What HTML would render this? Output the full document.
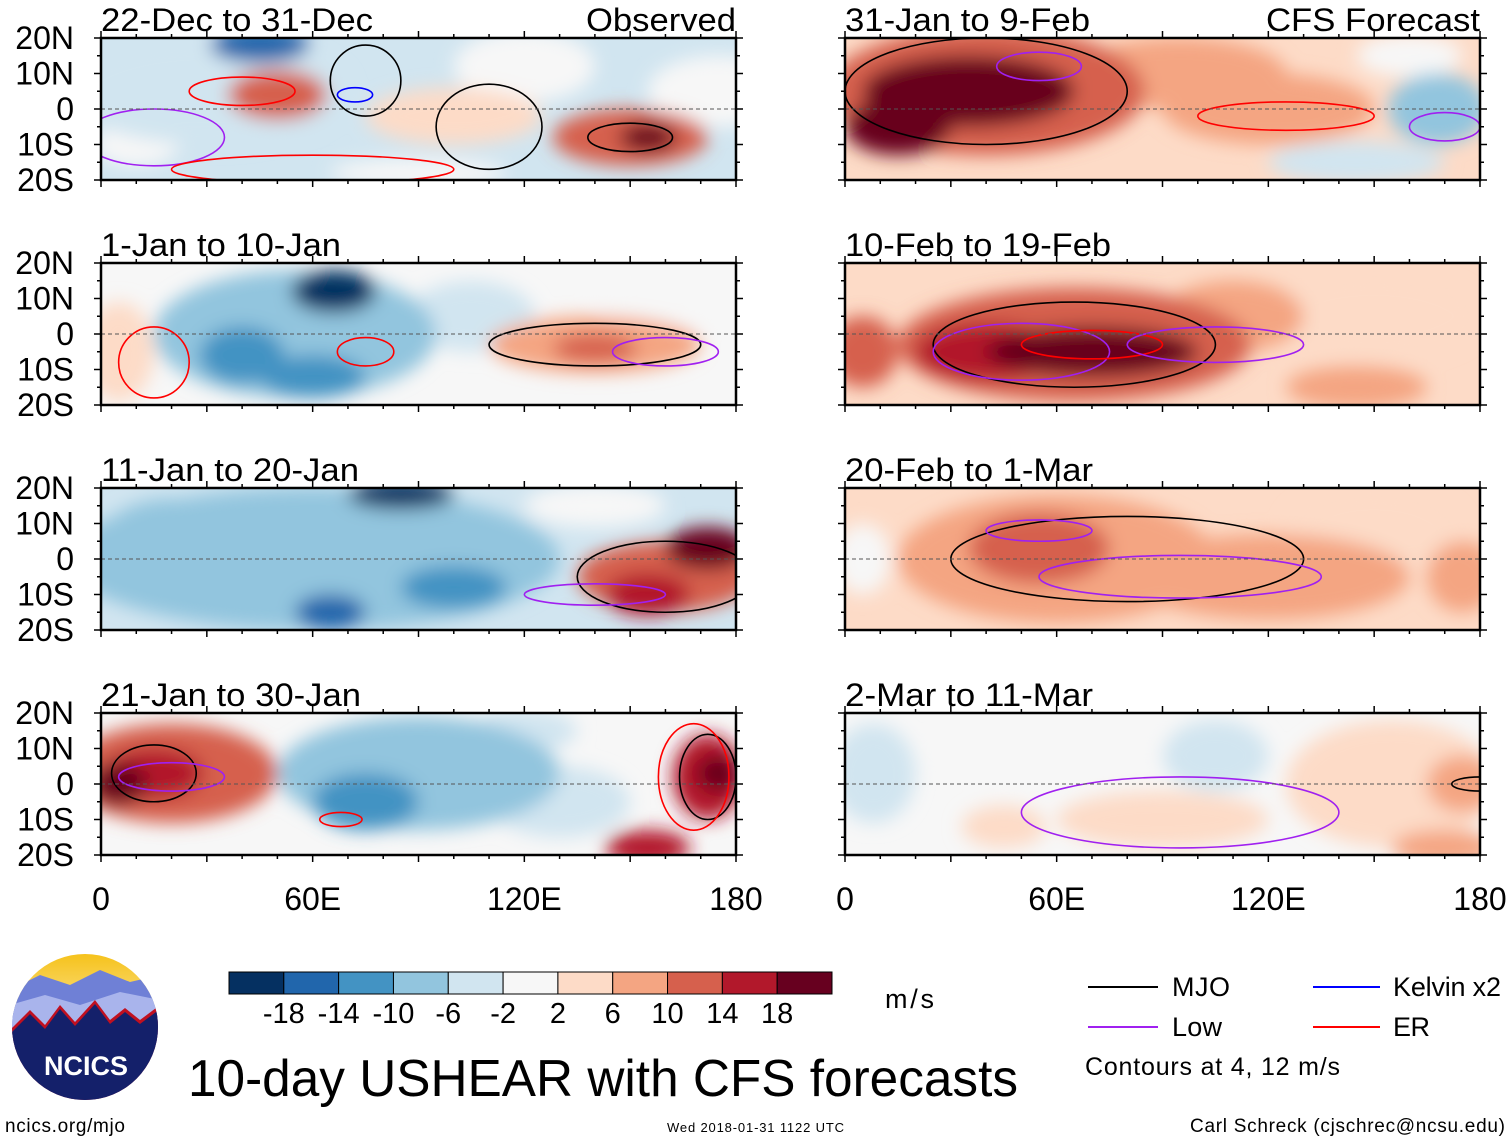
<!DOCTYPE html>
<html><head><meta charset="utf-8">
<style>
html,body{margin:0;padding:0;background:#fff;}
body{width:1510px;height:1142px;overflow:hidden;font-family:"Liberation Sans",Arial,sans-serif;}
svg text{font-family:"Liberation Sans",Arial,sans-serif;}
</style></head>
<body>
<svg id="chart" width="1510" height="1142" xmlns="http://www.w3.org/2000/svg">
<defs>
<filter id="blur" x="-20%" y="-50%" width="140%" height="200%"><feGaussianBlur stdDeviation="9"/></filter>
<linearGradient id="sky" x1="0" y1="0" x2="0" y2="1"><stop offset="0" stop-color="#f6c21b"/><stop offset="0.35" stop-color="#f9dc7a"/><stop offset="0.5" stop-color="#9ab0e8"/></linearGradient>
<clipPath id="logoclip"><circle cx="85" cy="1027" r="73"/></clipPath>
</defs>
<g id="panels"></g>
<g id="logo">
<circle cx="85" cy="1027" r="73" fill="url(#sky)"/>
<g clip-path="url(#logoclip)">
<path d="M10 990 L40 975 L70 985 L100 970 L130 982 L160 975 L160 1020 L10 1020Z" fill="#6f80d6"/>
<path d="M10 1005 L45 995 L80 1005 L120 992 L160 1000 L160 1040 L10 1040Z" fill="#a9b4ec"/>
<path d="M10 1030 L30 1010 L45 1025 L60 1005 L75 1022 L95 1000 L110 1020 L125 1008 L140 1020 L160 1005 L160 1110 L10 1110Z" fill="#c01020"/>
<path d="M10 1034 L30 1014 L45 1029 L60 1009 L75 1026 L95 1004 L110 1024 L125 1012 L140 1024 L160 1009 L160 1110 L10 1110Z" fill="#14206a"/>
</g>
<text x="86" y="1075" font-size="27" font-weight="bold" fill="#fff" text-anchor="middle">NCICS</text>
</g>
<g id="colorbar"></g>
<text x="885" y="1008" font-size="27" textLength="49">m/s</text>
<text x="188" y="1096" font-size="52" textLength="830" lengthAdjust="spacingAndGlyphs">10-day USHEAR with CFS forecasts</text>
<g font-size="27">
<line x1="1088" y1="987" x2="1158" y2="987" stroke="#000" stroke-width="2"/><text x="1172" y="996" textLength="58">MJO</text>
<line x1="1088" y1="1027" x2="1158" y2="1027" stroke="#a020f0" stroke-width="2"/><text x="1172" y="1036" textLength="50">Low</text>
<line x1="1313" y1="987" x2="1380" y2="987" stroke="#0000ff" stroke-width="2"/><text x="1393" y="996" textLength="108">Kelvin x2</text>
<line x1="1313" y1="1027" x2="1380" y2="1027" stroke="#ff0000" stroke-width="2"/><text x="1393" y="1036" textLength="37">ER</text>
<text x="1085" y="1075" font-size="25" textLength="255">Contours at 4, 12 m/s</text>
</g>
<text x="5" y="1132" font-size="19" textLength="120">ncics.org/mjo</text>
<text x="667" y="1132" font-size="13" textLength="177">Wed 2018-01-31 1122 UTC</text>
<text x="1190" y="1132" font-size="19" textLength="315">Carl Schreck (cjschrec@ncsu.edu)</text>
</svg>
<script>
const NS='http://www.w3.org/2000/svg';
const binEdges=[-18,-14,-10,-6,-2,2,6,10,14,18];
const binColors=['#053061','#2166ac','#4393c3','#92c5de','#d1e5f0','#f7f7f7','#fddbc7','#f4a582','#d6604d','#b2182b','#67001f'];
const cbLabels=['-18','-14','-10','-6','-2','2','6','10','14','18'];
const xTickLabels=['0','60E','120E','180'];
const xTickLons=[0,60,120,180];
const latTickLabels=['20N','10N','0','10S','20S'];
const latTicks=[20,10,0,-10,-20];
const panelTitles=['22-Dec to 31-Dec','1-Jan to 10-Jan','11-Jan to 20-Jan','21-Jan to 30-Jan','31-Jan to 9-Feb','10-Feb to 19-Feb','20-Feb to 1-Mar','2-Mar to 11-Mar'];
const panelTitleWidths=[272,240,258,260,245,266,248,248];
const panelBase=[-2.5,0,-3,0,4,4,4,1.5];
// blobs: [lon, lat, lonRadius, latRadius, value]
const blobs0=[[30,5,40,15,-5],[45,18,14,5,-15],[50,4,14,7,12],[100,-2,25,8,4],[150,-8,22,8,13],[155,-8,8,4,18],[175,5,20,10,-2],[120,12,20,10,0],[90,-18,25,4,0],[10,-10,12,6,0]];
const blobs1=[[55,0,40,18,-9],[66,12,12,6,-19],[40,-6,12,8,-13],[60,-12,15,6,-12],[105,5,18,10,-6],[5,-5,10,14,5],[140,-3,30,8,8],[140,-4,12,4,13],[160,10,20,8,-2]];
const blobs2=[[60,0,70,20,-8],[85,18,15,4,-19],[65,-15,10,5,-17],[100,-8,15,6,-12],[20,5,20,12,-10],[160,-5,25,10,12],[172,3,12,6,19],[155,-10,12,6,15],[140,15,20,6,0]];
const blobs3=[[20,3,30,14,10],[5,0,8,6,19],[15,3,14,7,15],[90,3,40,16,-8],[75,-5,15,8,-11],[130,-5,20,10,-3],[172,2,10,12,14],[175,3,6,5,19],[155,-18,12,5,14],[120,15,15,6,-3]];
const blobs4=[[40,5,45,18,13],[35,5,30,10,19],[15,-5,15,8,19],[95,10,30,10,6],[120,0,30,10,6],[168,0,14,10,-10],[145,-15,25,6,-4],[160,15,15,6,-2]];
const blobs5=[[65,-3,50,16,12],[70,-5,30,7,19],[40,-5,20,8,15],[110,5,20,10,6],[150,5,30,12,3],[145,-15,20,6,7],[5,-5,10,10,10]];
const blobs6=[[60,0,45,18,9],[55,3,20,10,12],[120,-5,40,12,6],[5,0,8,10,-2],[150,8,25,12,4],[175,-5,10,10,9]];
const blobs7=[[8,3,12,14,-5],[105,8,15,10,-4],[60,10,35,8,1],[175,0,10,8,9],[155,0,30,18,4],[90,-10,30,8,4],[170,-18,15,5,6],[45,-12,12,6,3]];
const allBlobs=[blobs0,blobs1,blobs2,blobs3,blobs4,blobs5,blobs6,blobs7];
// contour ellipses: [lon, lat, lonRadius, latRadius, type]
const contours=[
 [[75,8,10,10,'mjo'],[110,-5,15,12,'mjo'],[150,-8,12,4,'mjo'],[15,-8,20,8,'low'],[40,5,15,4,'er'],[60,-17,40,4,'er'],[72,4,5,2,'kelvin']],
 [[140,-3,30,6,'mjo'],[15,-8,10,10,'er'],[75,-5,8,4,'er'],[160,-5,15,4,'low']],
 [[160,-5,25,10,'mjo'],[140,-10,20,3,'low']],
 [[15,3,12,8,'mjo'],[172,2,8,12,'mjo'],[20,2,15,4,'low'],[168,2,10,15,'er'],[68,-10,6,2,'er']],
 [[40,5,40,15,'mjo'],[55,12,12,4,'low'],[125,-2,25,4,'er'],[170,-5,10,4,'low']],
 [[65,-3,40,12,'mjo'],[50,-5,25,8,'low'],[70,-3,20,4,'er'],[105,-3,25,5,'low']],
 [[80,0,50,12,'mjo'],[55,8,15,3,'low'],[95,-5,40,6,'low']],
 [[95,-8,45,10,'low'],[180,0,8,2,'mjo']]
];
const lineColor={mjo:'#000',low:'#a020f0',er:'#ff0000',kelvin:'#0000ff'};
function colorFor(v){let i=0;while(i<binEdges.length&&v>=binEdges[i])i++;return binColors[i];}
const panelsG=document.getElementById('panels');
const PW=635,PH=142;
const colX=[101,845],rowY=[38,263,488,713];
function mk(tag,attrs,parent){const e=document.createElementNS(NS,tag);for(const k in attrs)e.setAttribute(k,attrs[k]);parent.appendChild(e);return e;}
for(let p=0;p<8;p++){
  const col=p<4?0:1,row=p%4;
  const x0=colX[col],y0=rowY[row];
  const xs=lon=>x0+lon/180*PW;
  const ys=lat=>y0+(20-lat)/40*PH;
  const g=mk('g',{},panelsG);
  
  
  const cp=mk('clipPath',{id:'cp'+p},g);
  mk('rect',{x:x0,y:y0,width:PW,height:PH},cp);
  const inner=mk('g',{'clip-path':'url(#cp'+p+')'},g);
  mk('rect',{x:x0-20,y:y0-20,width:PW+40,height:PH+40,fill:colorFor(panelBase[p])},inner);
  const fg=mk('g',{filter:'url(#blur)'},inner);
  const bl=allBlobs[p].slice().sort((a,b)=>Math.abs(a[4])-Math.abs(b[4]));
  bl.forEach(b=>{
    const e=mk('ellipse',{cx:xs(b[0]),cy:ys(b[1]),rx:b[2]/180*PW,ry:b[3]/40*PH,fill:colorFor(b[4])},fg);
    
    
  });
  contours[p].forEach(c=>{
    const e=mk('ellipse',{cx:xs(c[0]),cy:ys(c[1]),rx:c[2]/180*PW,ry:c[3]/40*PH,fill:'none',stroke:lineColor[c[4]],'stroke-width':1.6},inner);
    
    
  });
  mk('line',{x1:x0,x2:x0+PW,y1:ys(0),y2:ys(0),stroke:'#555','stroke-dasharray':'4,3','stroke-width':1},inner);
  const fr=mk('rect',{x:x0,y:y0,width:PW,height:PH,fill:'none',stroke:'#000','stroke-width':2.5},g);
  
  
  for(let lon=0;lon<=180;lon+=10){const L=lon%30===0?7:4;mk('line',{x1:xs(lon),x2:xs(lon),y1:y0,y2:y0-L,stroke:'#000','stroke-width':1.5},g);mk('line',{x1:xs(lon),x2:xs(lon),y1:y0+PH,y2:y0+PH+L,stroke:'#000','stroke-width':1.5},g);}
  for(let lat=-20;lat<=20;lat+=5){const L=lat%10===0?7:4;mk('line',{x1:x0,x2:x0-L,y1:ys(lat),y2:ys(lat),stroke:'#000','stroke-width':1.5},g);mk('line',{x1:x0+PW,x2:x0+PW+L,y1:ys(lat),y2:ys(lat),stroke:'#000','stroke-width':1.5},g);}
  const t=mk('text',{x:x0,y:y0-7,'font-size':32,textLength:panelTitleWidths[p],lengthAdjust:'spacingAndGlyphs'},g);t.textContent=panelTitles[p];
  
  
  if(p===0){const t2=mk('text',{x:x0+PW-150,y:y0-7,'font-size':32,textLength:150,lengthAdjust:'spacingAndGlyphs'},g);t2.textContent='Observed';}
  if(p===4){const t2=mk('text',{x:x0+PW-214,y:y0-7,'font-size':32,textLength:214,lengthAdjust:'spacingAndGlyphs'},g);t2.textContent='CFS Forecast';}
  if(col===0){latTicks.forEach((lat,i)=>{const tt=mk('text',{x:74,y:ys(lat)+11,'font-size':32,'text-anchor':'end'},g);tt.textContent=latTickLabels[i];});}
  if(row===3){xTickLons.forEach((lon,i)=>{const tt=mk('text',{x:xs(lon),y:910,'font-size':32,'text-anchor':'middle'},g);tt.textContent=xTickLabels[i];});}
}
const cb=document.getElementById('colorbar');
const cbx=229,cbw=603/binColors.length;
binColors.forEach((c,i)=>{const r=mk('rect',{x:cbx+i*cbw,y:972,width:cbw,height:22,fill:c,stroke:'#000','stroke-width':1},cb);});
cbLabels.forEach((l,i)=>{const t=mk('text',{x:cbx+(i+1)*cbw,y:1023,'font-size':29,'text-anchor':'middle'},cb);t.textContent=l;});
</script>
</body></html>
